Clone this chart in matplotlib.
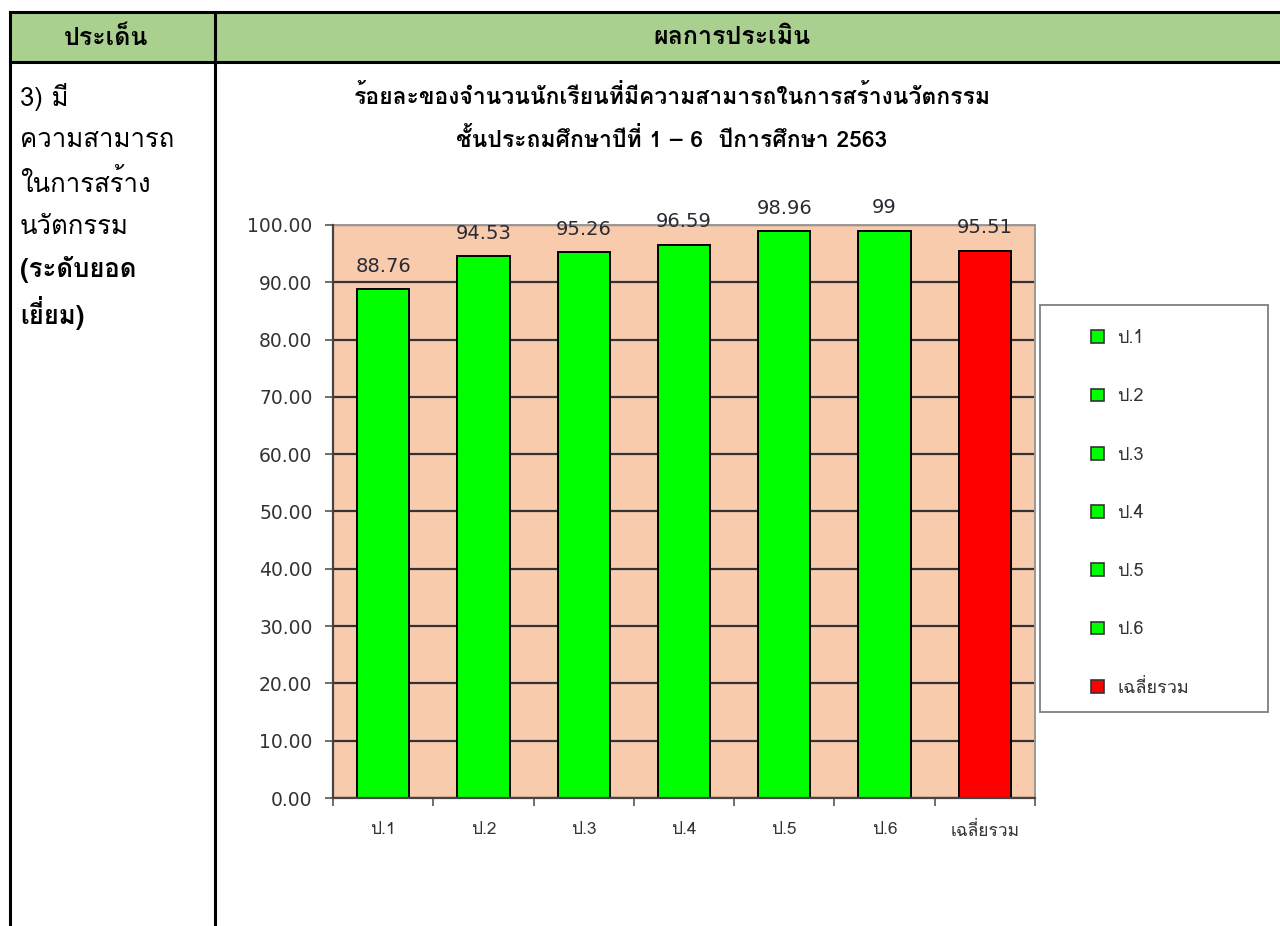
import matplotlib
matplotlib.use('Agg')
import matplotlib.pyplot as plt
from matplotlib.patches import Rectangle
from matplotlib.lines import Line2D
from matplotlib.ticker import FormatStrFormatter, FixedLocator

# ---------------- data ----------------
categories = ['ป.1', 'ป.2', 'ป.3', 'ป.4', 'ป.5', 'ป.6', 'เฉลี่ยรวม']
values = [88.76, 94.53, 95.26, 96.59, 98.96, 99, 95.51]
value_labels = ['88.76', '94.53', '95.26', '96.59', '98.96', '99', '95.51']
bar_colors = ['#00FF00', '#00FF00', '#00FF00', '#00FF00', '#00FF00', '#00FF00', '#FF0000']
yticks = [0, 10, 20, 30, 40, 50, 60, 70, 80, 90, 100]

title_lines = ['ร้อยละของจำนวนนักเรียนที่มีความสามารถในการสร้างนวัตกรรม',
               'ชั้นประถมศึกษาปีที่ 1 – 6  ปีการศึกษา 2563']
header_left = 'ประเด็น'
header_right = 'ผลการประเมิน'
left_lines = ['3) มี', 'ความสามารถ', 'ในการสร้าง', 'นวัตกรรม', '(ระดับยอด', 'เยี่ยม)']
left_bold = [False, False, False, False, True, True]

TABLE_FONT = ['Loma', 'DejaVu Sans']
THAI_FONT = ['Loma', 'DejaVu Sans']
NUM_FONT = ['DejaVu Sans', 'Loma']

W, H = 1280, 926
fig = plt.figure(figsize=(W / 100, H / 100), dpi=100)
fig.patch.set_facecolor('white')


def fx(x):
    return x / W


def fy(y):
    return 1 - y / H


# ---------------- table ----------------
fig.patches.append(Rectangle((fx(10), fy(62)), fx(1280) - fx(10), fy(12) - fy(62),
                             transform=fig.transFigure, facecolor='#A9D08E',
                             edgecolor='none', zorder=-2))
for (x0, y0, x1, y1) in [(10, 12, 1280, 12), (10, 62, 1280, 62),
                         (10, 12, 10, 926), (215, 12, 215, 926)]:
    fig.lines.append(Line2D([fx(x0), fx(x1)], [fy(y0), fy(y1)],
                            transform=fig.transFigure, color='black', lw=2.2, zorder=-1))

fig.text(fx(106), fy(38), header_left, ha='center', va='center', fontsize=18,
         fontweight='bold', family=TABLE_FONT)
fig.text(fx(732), fy(38), header_right, ha='center', va='center', fontsize=18,
         fontweight='bold', family=TABLE_FONT)

for i, (t, b) in enumerate(zip(left_lines, left_bold)):
    fig.text(fx(20), fy(97 + i * 43.2), t, ha='left', va='center', fontsize=18.5,
             fontweight='bold' if b else 'normal', family=TABLE_FONT)

for i, t in enumerate(title_lines):
    fig.text(fx(672), fy(96 + i * 43), t, ha='center', va='center', fontsize=16.5,
             fontweight='bold', family=TABLE_FONT)

# ---------------- chart ----------------
ax = fig.add_axes([fx(333), fy(798), fx(1035) - fx(333), fy(225) - fy(798)])
ax.set_facecolor('#F8CBAD')
x = list(range(len(categories)))
bars = []
for xi, v, c, lab in zip(x, values, bar_colors, categories):
    b = ax.bar(xi, v, width=0.52, color=c, edgecolor='black', linewidth=1.4,
               zorder=3, label=lab)
    bars.append(b[0])

ax.set_xlim(-0.5, len(categories) - 0.5)
ax.set_ylim(0, 100)
ax.set_yticks(yticks)
ax.yaxis.set_major_formatter(FormatStrFormatter('%.2f'))
ax.yaxis.grid(True, color='#333333', linewidth=1.6, zorder=1)
ax.set_axisbelow(True)

ax.set_xticks(x)
ax.set_xticklabels(categories, family=THAI_FONT, fontsize=12.5, color='#333333')
ax.xaxis.set_minor_locator(FixedLocator([i - 0.5 for i in range(len(categories) + 1)]))
ax.tick_params(axis='x', which='major', length=0, pad=17)
ax.tick_params(axis='x', which='minor', length=5.8, width=1.2, color='#555555', direction='out')
ax.tick_params(axis='y', length=5.8, width=1.2, color='#555555', direction='out', pad=9,
               labelsize=13.5, labelcolor='#333333')
for lab in ax.get_yticklabels():
    lab.set_family(NUM_FONT)

for s in ['left', 'bottom']:
    ax.spines[s].set_color('#444444')
    ax.spines[s].set_linewidth(1.6)
    ax.spines[s].set_zorder(4)
for s in ['top', 'right']:
    ax.spines[s].set_color('#999999')
    ax.spines[s].set_linewidth(1.4)

for b, t in zip(bars, value_labels):
    ax.annotate(t, (b.get_x() + b.get_width() / 2, b.get_height()),
                xytext=(0, 16.5), textcoords='offset points', ha='center', va='center',
                fontsize=14, color='#2a2a35', family=NUM_FONT, annotation_clip=False)

# legend
fig.patches.append(Rectangle((fx(1040), fy(712)), fx(1268) - fx(1040), fy(305) - fy(712),
                             transform=fig.transFigure, facecolor='white',
                             edgecolor='#888888', linewidth=1.4, zorder=-1))
leg = ax.legend(handles=bars, labels=categories, loc='upper left',
                bbox_to_anchor=(fx(1091), fy(329)), bbox_transform=fig.transFigure,
                frameon=False, labelspacing=2.23, handlelength=0.7,
                handleheight=0.7, handletextpad=0.75, borderpad=0, borderaxespad=0,
                prop={'family': THAI_FONT, 'size': 13})
for t in leg.get_texts():
    t.set_color('#333333')
for h in leg.legend_handles:
    h.set_edgecolor('#333333')
    h.set_linewidth(1.2)

fig.savefig('out.png', dpi=100)
